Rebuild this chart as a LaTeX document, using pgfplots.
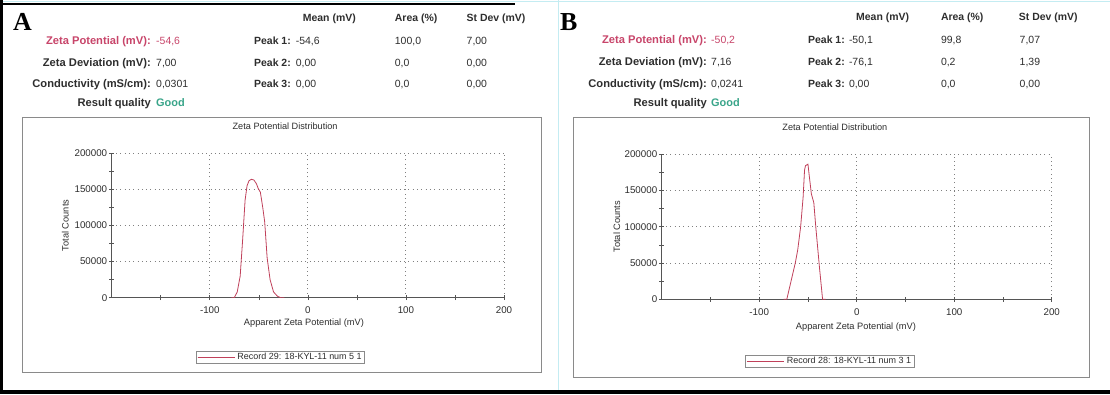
\documentclass[border=0pt]{standalone}
\usepackage{pgfplots}
\pgfplotsset{compat=1.18}
\usepackage{pgfplotstable}
\usepackage{fontspec}
\setmainfont{Liberation Sans}
\newfontfamily\serifbold{Liberation Serif}
\definecolor{txt}{HTML}{2E2E2E}
\definecolor{zpink}{HTML}{C8456A}
\definecolor{good}{HTML}{3AA58A}
\definecolor{curve}{HTML}{C0405A}
\definecolor{framegray}{HTML}{8A8A8A}
\definecolor{axisgray}{HTML}{555555}
\definecolor{cyanb}{HTML}{C4ECF2}

\pgfplotstableread{
x y
-78 0
-75 0
-72 8000
-69 30000
-66.5 80000
-64 135000
-62 155000
-60 162000
-57.5 164000
-55 163000
-52.5 158000
-50.5 151000
-48.4 146000
-46 125000
-44 105000
-41.5 55000
-38.5 25000
-35 8000
-31 2000
-27.6 0
-24 0
}\dataA

\pgfplotstableread{
x y
-75 0
-71.7 0
-67 27000
-63 50000
-60.5 68000
-57.5 100000
-55 140000
-53.5 178000
-52.5 184000
-50 186000
-48.5 168000
-46.5 145000
-44 133000
-42 100000
-38 41000
-35 0
-32 0
}\dataB

\pgfplotsset{zeta/.style={
  scale only axis, xmin=-200, xmax=200, ymin=0, ymax=200000,
  axis x line=bottom, axis y line=left,
  axis line style={-, color=axisgray, line width=0.8pt},
  xtick={-100,0,100,200}, minor xtick={-150,-50,50,150},
  ytick={0,50000,100000,150000,200000}, minor ytick={25000,75000,125000,175000},
  tick align=center, major tick length=5bp, minor tick length=5bp,
  tick style={color=axisgray, line width=0.6pt},
  grid=major, major grid style={color=gray, line width=0.9pt, dash pattern=on 0.9bp off 3.4bp},
  scaled y ticks=false,
  /pgf/number format/fixed, /pgf/number format/1000 sep={},
  /pgf/number format/assume math mode=true,
  ticklabel style={font=\fontsize{9.8}{10}\selectfont, text=txt},
  xticklabel style={yshift=-3bp},
  yticklabel style={xshift=1.5bp},
  label style={font=\fontsize{9.3}{10}\selectfont, text=txt},
  every axis title shift=0pt,
  title style={font=\fontsize{9.2}{10}\selectfont, text=txt, anchor=center, yshift=0pt},
  xlabel={Apparent Zeta Potential (mV)},
  ylabel={Total Counts},
  title={Zeta Potential Distribution},
  legend style={draw=framegray, font=\fontsize{9}{10}\selectfont,
    inner xsep=1bp, inner ysep=0pt, anchor=center, line width=0.6pt},
  legend image code/.code={\draw[line width=0.8pt, color=curve] (0bp,0bp) -- (31bp,0bp); \path (0bp,0bp) -- (37.5bp,0bp);},
  legend cell align=left,
}}

\begin{document}
\begin{tikzpicture}[x=1bp, y=1bp]
\useasboundingbox (0,0) rectangle (1110,394);
\fill[white] (0,0) rectangle (1110,394);
% borders
\draw[cyanb, line width=1.5bp] (0,392.5) -- (1110,392.5);
\draw[cyanb, line width=1.5bp] (558.5,0) -- (558.5,394);
\fill[black] (0,0) rectangle (3,394);
\fill[black] (0,0) rectangle (1110,4);
\draw[black, line width=2bp] (0,389.5) -- (515,389.5);
% plot frames
\draw[framegray, line width=0.8bp] (22,22) rectangle (541.7,277);
\draw[framegray, line width=0.8bp] (573,17) rectangle (1089,277);

% ---------- Panel A header ----------
\node[anchor=base west, inner sep=0, font=\serifbold\bfseries\fontsize{26}{26}\selectfont] at (13,364) {A};
\begin{scope}[every node/.style={inner sep=0, text=txt, font=\fontsize{10.5}{12}\selectfont}]
\node[anchor=base west, font=\bfseries\fontsize{10.5}{12}\selectfont] at (302.7,372.2) {Mean (mV)};
\node[anchor=base west, font=\bfseries\fontsize{10.5}{12}\selectfont] at (394.7,372.2) {Area (\%)};
\node[anchor=base west, font=\bfseries\fontsize{10.5}{12}\selectfont] at (466.5,372.2) {St Dev (mV)};
\node[anchor=base east, text=zpink, font=\bfseries\fontsize{11.2}{12}\selectfont] at (151,349.2) {Zeta Potential (mV):};
\node[anchor=base west, text=zpink] at (156,349.2) {-54,6};
\node[anchor=base east, font=\bfseries\fontsize{11.2}{12}\selectfont] at (151,327.2) {Zeta Deviation (mV):};
\node[anchor=base west] at (156,327.2) {7,00};
\node[anchor=base east, font=\bfseries\fontsize{11.2}{12}\selectfont] at (151,306.2) {Conductivity (mS/cm):};
\node[anchor=base west] at (156,306.2) {0,0301};
\node[anchor=base east, font=\bfseries\fontsize{11.2}{12}\selectfont] at (151,287.7) {Result quality};
\node[anchor=base west, text=good, font=\bfseries\fontsize{11}{12}\selectfont] at (156,287.7) {Good};
\node[anchor=base east, font=\bfseries\fontsize{10.5}{12}\selectfont] at (291,349.2) {Peak 1:};
\node[anchor=base east, font=\bfseries\fontsize{10.5}{12}\selectfont] at (291,327.2) {Peak 2:};
\node[anchor=base east, font=\bfseries\fontsize{10.5}{12}\selectfont] at (291,306.2) {Peak 3:};
\node[anchor=base west] at (295.6,349.2) {-54,6};
\node[anchor=base west] at (295.6,327.2) {0,00};
\node[anchor=base west] at (295.6,306.2) {0,00};
\node[anchor=base west] at (394.7,349.2) {100,0};
\node[anchor=base west] at (394.7,327.2) {0,0};
\node[anchor=base west] at (394.7,306.2) {0,0};
\node[anchor=base west] at (466.5,349.2) {7,00};
\node[anchor=base west] at (466.5,327.2) {0,00};
\node[anchor=base west] at (466.5,306.2) {0,00};
\end{scope}

% ---------- Panel B header ----------
\node[anchor=base west, inner sep=0, font=\serifbold\bfseries\fontsize{26}{26}\selectfont] at (560,364) {B};
\begin{scope}[every node/.style={inner sep=0, text=txt, font=\fontsize{10.5}{12}\selectfont}]
\node[anchor=base west, font=\bfseries\fontsize{10.5}{12}\selectfont] at (856,373.7) {Mean (mV)};
\node[anchor=base west, font=\bfseries\fontsize{10.5}{12}\selectfont] at (940.8,373.7) {Area (\%)};
\node[anchor=base west, font=\bfseries\fontsize{10.5}{12}\selectfont] at (1018.7,373.7) {St Dev (mV)};
\node[anchor=base east, text=zpink, font=\bfseries\fontsize{11.2}{12}\selectfont] at (707,350.7) {Zeta Potential (mV):};
\node[anchor=base west, text=zpink] at (711,350.7) {-50,2};
\node[anchor=base east, font=\bfseries\fontsize{11.2}{12}\selectfont] at (707,328.2) {Zeta Deviation (mV):};
\node[anchor=base west] at (711,328.2) {7,16};
\node[anchor=base east, font=\bfseries\fontsize{11.2}{12}\selectfont] at (707,306.2) {Conductivity (mS/cm):};
\node[anchor=base west] at (711,306.2) {0,0241};
\node[anchor=base east, font=\bfseries\fontsize{11.2}{12}\selectfont] at (707,287.2) {Result quality};
\node[anchor=base west, text=good, font=\bfseries\fontsize{11}{12}\selectfont] at (711,287.2) {Good};
\node[anchor=base east, font=\bfseries\fontsize{10.5}{12}\selectfont] at (845,350.7) {Peak 1:};
\node[anchor=base east, font=\bfseries\fontsize{10.5}{12}\selectfont] at (845,328.2) {Peak 2:};
\node[anchor=base east, font=\bfseries\fontsize{10.5}{12}\selectfont] at (845,306.2) {Peak 3:};
\node[anchor=base west] at (848.8,350.7) {-50,1};
\node[anchor=base west] at (848.8,328.2) {-76,1};
\node[anchor=base west] at (848.8,306.2) {0,00};
\node[anchor=base west] at (940.8,350.7) {99,8};
\node[anchor=base west] at (940.8,328.2) {0,2};
\node[anchor=base west] at (940.8,306.2) {0,0};
\node[anchor=base west] at (1019.5,350.7) {7,07};
\node[anchor=base west] at (1019.5,328.2) {1,39};
\node[anchor=base west] at (1019.5,306.2) {0,00};
\end{scope}

% ---------- Plot A ----------
\begin{axis}[zeta, at={(111.7bp,96.3bp)}, anchor=south west,
  width=392.3bp, height=144.4bp,
  title style={at={(0.442,1.189)}},
  xlabel style={at={(0.49,-0.175)}, anchor=center},
  ylabel style={at={(-0.118,0.5)}, anchor=center},
  legend style={at={(0.430,-0.414)}}]
\addplot[curve, line width=0.8pt] table[x=x, y=y] {\dataA};
\addlegendentry{\textcolor{txt}{Record 29: 18-KYL-11 num 5 1}}
\end{axis}

% ---------- Plot B ----------
\begin{axis}[zeta, at={(661.7bp,94.7bp)}, anchor=south west,
  width=390bp, height=145.3bp,
  title style={at={(0.444,1.186)}},
  xlabel style={at={(0.498,-0.189)}, anchor=center},
  ylabel style={at={(-0.115,0.5)}, anchor=center},
  legend style={at={(0.431,-0.424)}}]
\addplot[curve, line width=0.8pt] table[x=x, y=y] {\dataB};
\addlegendentry{\textcolor{txt}{Record 28: 18-KYL-11 num 3 1}}
\end{axis}
\end{tikzpicture}
\end{document}
